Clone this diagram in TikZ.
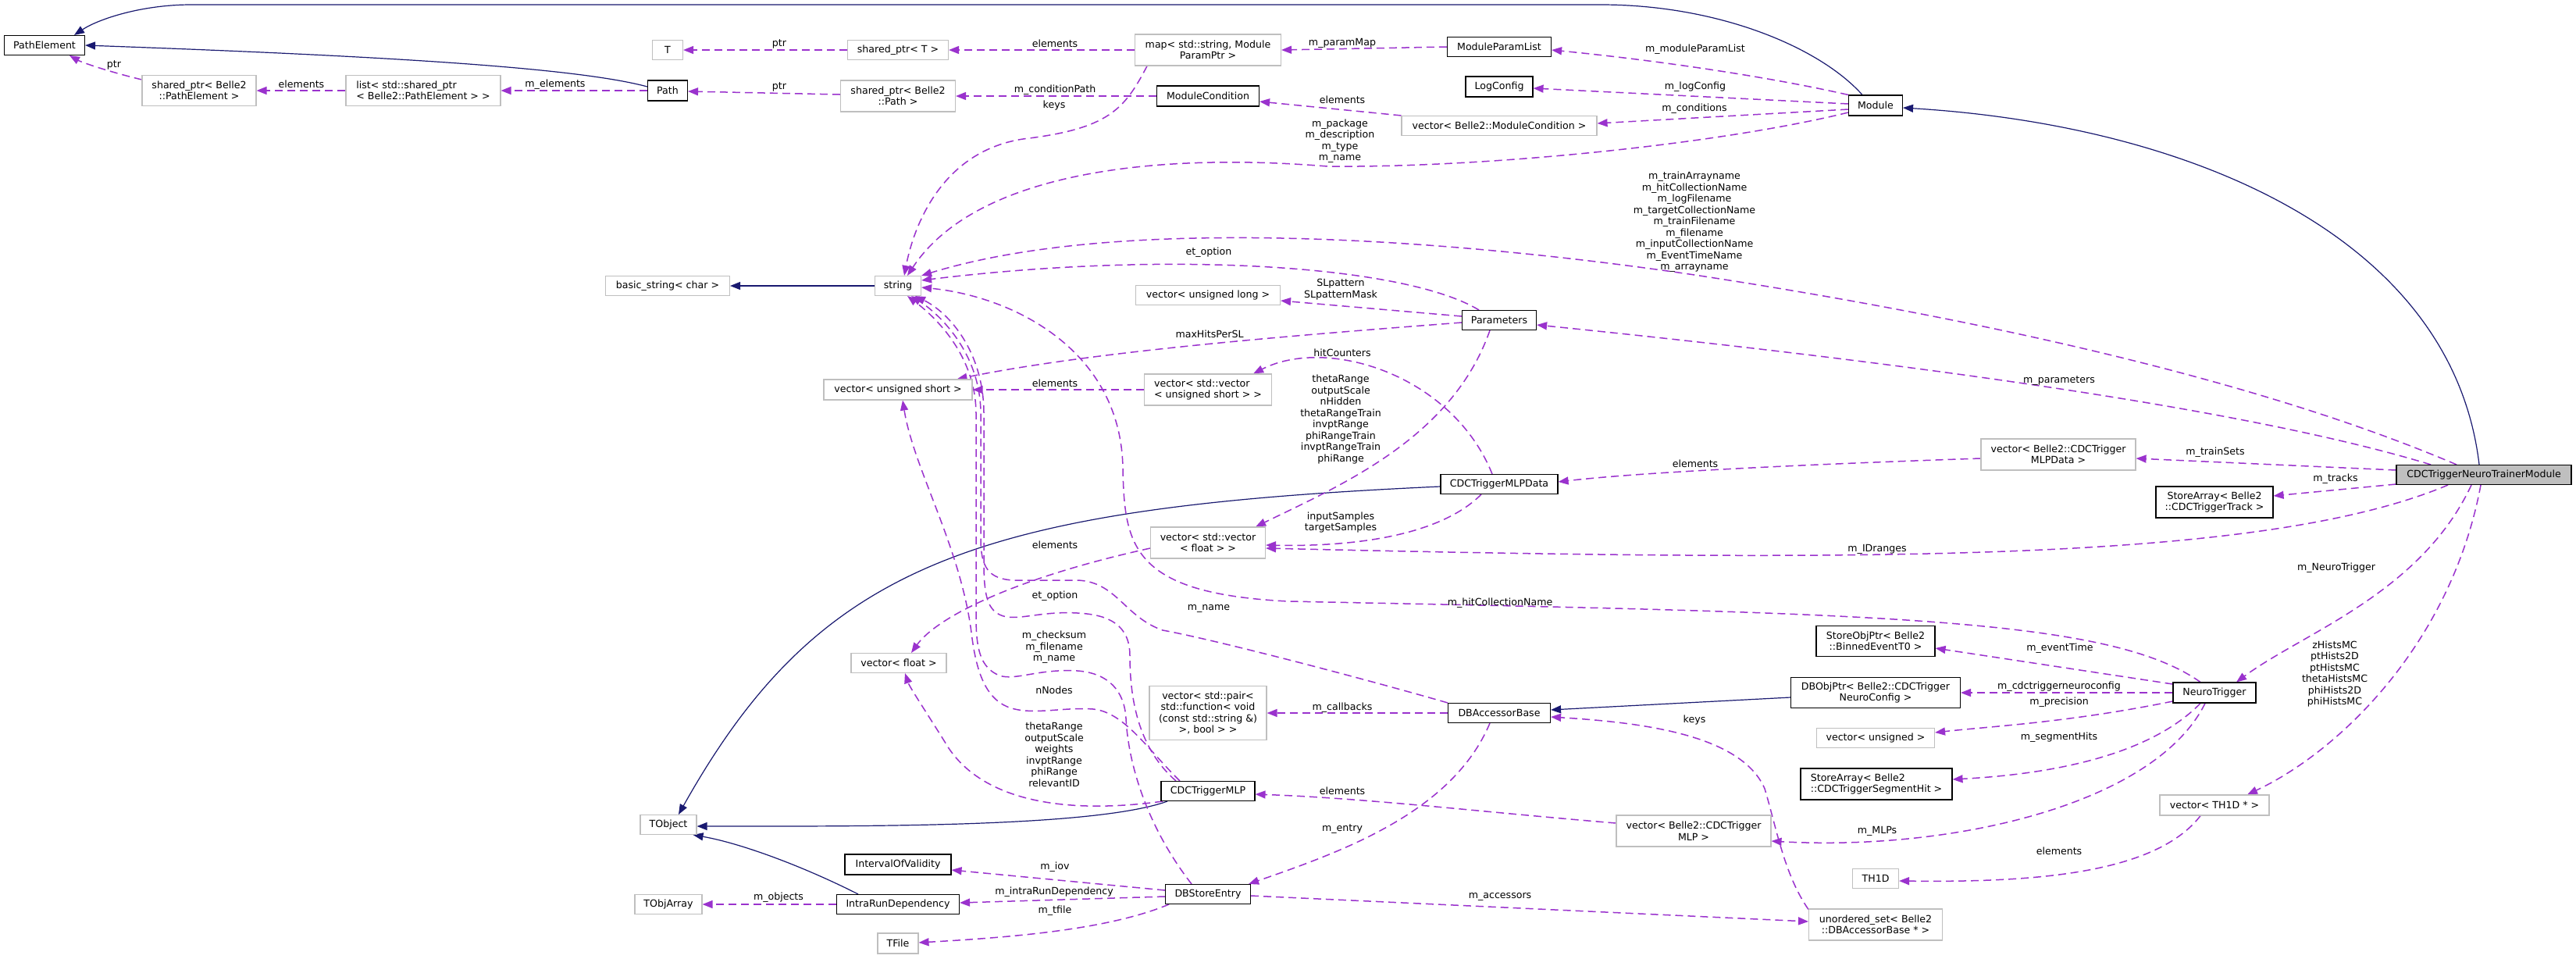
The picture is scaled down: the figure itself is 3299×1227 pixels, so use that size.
\documentclass[tikz,border=0pt]{standalone}
\usepackage{fontspec}
\setmainfont{DejaVu Sans}
\usetikzlibrary{arrows.meta,backgrounds}

\definecolor{inhcol}{HTML}{191970}
\definecolor{usecol}{HTML}{9A32CD}
\definecolor{extcol}{HTML}{BFBFBF}
\newcommand\dfont{\fontsize{12.6}{14.5}\selectfont}

\tikzset{
  cls/.style={draw=black, line width=1.1pt, inner sep=0pt, minimum height=25pt, font=\dfont, align=center, fill=white},
  ext/.style={cls, draw=extcol},
  mainc/.style={cls, fill=extcol},
  inh/.style={inhcol, line width=1.2pt, -{Triangle[length=13pt,width=10pt]}},
  use/.style={usecol, line width=1.5pt, dash pattern=on 10pt off 6pt, -{Triangle[length=13pt,width=10pt]}},
  lbl/.style={font=\dfont, inner sep=0pt, align=center}
}

\begin{document}
\begin{tikzpicture}[x=1pt, y=-1pt]

\useasboundingbox (0,0) rectangle (3299,1227);

% classes, column by column
\node[cls, minimum width=103] (PathElement) at (57,58) {PathElement};
\node[ext, minimum width=146, minimum height=39] (sptrPE) at (255,116) {shared\_ptr< Belle2\\::PathElement >};
\node[ext, minimum width=198, minimum height=39, align=left] (listPE) at (542,116) {list< std::shared\_ptr\\< Belle2::PathElement > >};
\node[cls, minimum width=51, minimum height=26] (Path) at (855,116) {Path};
\node[ext, minimum width=39] (T) at (855,64) {T};
\node[ext, minimum width=159] (basicstr) at (855,366) {basic\_string< char >};
\node[ext, minimum width=72] (TObject) at (856,1056) {TObject};
\node[ext, minimum width=86] (TObjArray) at (856,1158) {TObjArray};

\node[ext, minimum width=129] (sptrT) at (1150,64) {shared\_ptr< T >};
\node[ext, minimum width=147, minimum height=40] (sptrPath) at (1150,123) {shared\_ptr< Belle2\\::Path >};
\node[ext, minimum width=59] (string) at (1150,366) {string};
\node[ext, minimum width=190, minimum height=26] (vecushort) at (1150,499) {vector< unsigned short >};
\node[ext, minimum width=122] (vecfloat) at (1151,849) {vector< float >};
\node[cls, minimum width=136, minimum height=26] (IoV) at (1150,1107) {IntervalOfValidity};
\node[cls, minimum width=157] (IRD) at (1150,1158) {IntraRunDependency};
\node[ext, minimum width=52, minimum height=26] (TFile) at (1150,1208) {TFile};

\node[ext, minimum width=187, minimum height=40] (map) at (1547,64) {map< std::string, Module\\ParamPtr >};
\node[cls, minimum width=131, minimum height=26] (ModCond) at (1547,123) {ModuleCondition};
\node[ext, minimum width=185] (veculong) at (1547,378) {vector< unsigned long >};
\node[ext, minimum width=163, minimum height=40, align=left] (vecvecushort) at (1547,499) {vector< std::vector\\< unsigned short > >};
\node[ext, minimum width=147, minimum height=40] (vecvecfloat) at (1547,695) {vector< std::vector\\< float > >};
\node[ext, minimum width=150, minimum height=69] (vecpair) at (1547,913) {vector< std::pair<\\std::function< void\\(const std::string \&)\\>, bool > >};
\node[cls, minimum width=120] (MLP) at (1547,1013) {CDCTriggerMLP};
\node[cls, minimum width=109] (DBSE) at (1547,1145) {DBStoreEntry};

\node[cls, minimum width=133] (MPL) at (1920,60) {ModuleParamList};
\node[cls, minimum width=86, minimum height=26] (LogConfig) at (1920,111) {LogConfig};
\node[ext, minimum width=250] (vecModCond) at (1920,161) {vector< Belle2::ModuleCondition >};
\node[cls, minimum width=95] (Parameters) at (1920,410) {Parameters};
\node[cls, minimum width=150] (MLPData) at (1920,620) {CDCTriggerMLPData};
\node[cls, minimum width=131] (DBAB) at (1920,913) {DBAccessorBase};

\node[cls, minimum width=69, minimum height=26] (Module) at (2402,135) {Module};
\node[cls, minimum width=152, minimum height=39] (SOP) at (2402,821) {StoreObjPtr< Belle2\\::BinnedEventT0 >};
\node[cls, minimum width=217, minimum height=39] (DBOP) at (2402,887) {DBObjPtr< Belle2::CDCTrigger\\NeuroConfig >};
\node[ext, minimum width=151] (vecuns) at (2402,945) {vector< unsigned >};
\node[cls, minimum width=194, minimum height=40, align=left] (SASH) at (2403,1004) {StoreArray< Belle2\\::CDCTriggerSegmentHit >};
\node[ext, minimum width=198, minimum height=40] (vecMLP) at (2169,1064) {vector< Belle2::CDCTrigger\\MLP >};
\node[ext, minimum width=59] (TH1D) at (2402,1125) {TH1D};
\node[ext, minimum width=171, minimum height=40] (uset) at (2402,1184) {unordered\_set< Belle2\\::DBAccessorBase * >};

\node[ext, minimum width=198, minimum height=40] (vecMLPData) at (2636,582) {vector< Belle2::CDCTrigger\\MLPData >};
\node[cls, minimum width=150, minimum height=40] (SAT) at (2836,643) {StoreArray< Belle2\\::CDCTriggerTrack >};
\node[cls, minimum width=106, minimum height=26] (NT) at (2836,887) {NeuroTrigger};
\node[ext, minimum width=140, minimum height=26] (vecTH1D) at (2836,1031) {vector< TH1D * >};
\node[mainc, minimum width=224] (TM) at (3181,608) {CDCTriggerNeuroTrainerModule};

% edge labels
\node[lbl] (lPtrA) at (146,83) {ptr};
\node[lbl] (lElemA) at (386,108) {elements};
\node[lbl] (lElems) at (711,108) {m\_elements};
\node[lbl] (lPtrB) at (998,56) {ptr};
\node[lbl] (lElemB) at (1351,56) {elements};
\node[lbl] (lPtrC) at (998,111) {ptr};
\node[lbl] (lCondPath) at (1351,115) {m\_conditionPath};
\node[lbl] (lKeysA) at (1350,135) {keys};
\node[lbl] (lParamMap) at (1719,55) {m\_paramMap};
\node[lbl] (lModParam) at (2171,63) {m\_moduleParamList};
\node[lbl] (lLogCfg) at (2171,111) {m\_logConfig};
\node[lbl] (lConds) at (2170,139) {m\_conditions};
\node[lbl] (lElemC) at (1719,128) {elements};
\node[lbl] (lPackage) at (1716,180.5) {m\_package\\m\_description\\m\_type\\m\_name};
\node[lbl] (lTrainNames) at (2170,284.5) {m\_trainArrayname\\m\_hitCollectionName\\m\_logFilename\\m\_targetCollectionName\\m\_trainFilename\\m\_filename\\m\_inputCollectionName\\m\_EventTimeName\\m\_arrayname};
\node[lbl] (lEtOptA) at (1548,323) {et\_option};
\node[lbl] (lSLpattern) at (1717,370.5) {SLpattern\\SLpatternMask};
\node[lbl] (lMaxHits) at (1549,428) {maxHitsPerSL};
\node[lbl] (lHitCount) at (1719,452) {hitCounters};
\node[lbl] (lElemD) at (1351,491) {elements};
\node[lbl] (lRanges) at (1717,537) {thetaRange\\outputScale\\nHidden\\thetaRangeTrain\\invptRange\\phiRangeTrain\\invptRangeTrain\\phiRange};
\node[lbl] (lSamples) at (1717,669) {inputSamples\\targetSamples};
\node[lbl] (lParams) at (2637,488) {m\_parameters};
\node[lbl] (lTrainSets) at (2837,579) {m\_trainSets};
\node[lbl] (lElemE) at (2171,594) {elements};
\node[lbl] (lTracks) at (2991,613) {m\_tracks};
\node[lbl] (lElemF) at (1351,698) {elements};
\node[lbl] (lIDranges) at (2404,703) {m\_IDranges};
\node[lbl] (lNeuro) at (2992,727) {m\_NeuroTrigger};
\node[lbl] (lEtOptB) at (1351,763) {et\_option};
\node[lbl] (lHitColl) at (1921,772) {m\_hitCollectionName};
\node[lbl] (lName) at (1548,779) {m\_name};
\node[lbl] (lChecksum) at (1350,829) {m\_checksum\\m\_filename\\m\_name};
\node[lbl] (lEventTime) at (2638,830) {m\_eventTime};
\node[lbl] (lHists) at (2990,863) {zHistsMC\\ptHists2D\\ptHistsMC\\thetaHistsMC\\phiHists2D\\phiHistsMC};
\node[lbl] (lNeuroCfg) at (2637,879) {m\_cdctriggerneuroconfig};
\node[lbl] (lNNodes) at (1350,884) {nNodes};
\node[lbl] (lPrecision) at (2637,899) {m\_precision};
\node[lbl] (lCallbacks) at (1719,906) {m\_callbacks};
\node[lbl] (lKeysB) at (2170,922) {keys};
\node[lbl] (lSegHits) at (2637,944) {m\_segmentHits};
\node[lbl] (lMLPRanges) at (1350,966.5) {thetaRange\\outputScale\\weights\\invptRange\\phiRange\\relevantID};
\node[lbl] (lElemG) at (1719,1013) {elements};
\node[lbl] (lEntry) at (1719,1062) {m\_entry};
\node[lbl] (lMLPs) at (2404,1064) {m\_MLPs};
\node[lbl] (lElemH) at (2637,1090) {elements};
\node[lbl] (lIov) at (1351,1110) {m\_iov};
\node[lbl] (lIntraRun) at (1350,1142) {m\_intraRunDependency};
\node[lbl] (lAccessors) at (1921,1148) {m\_accessors};
\node[lbl] (lObjects) at (997,1149) {m\_objects};
\node[lbl] (lTFile) at (1351,1166) {m\_tfile};

\begin{scope}[on background layer]
\fill[white] (0,0) rectangle (3299,1227);

% inheritance
\draw[inh] ([shift={(-17,0)}]Module.north) .. controls (2330,60) and (2200,6) .. (2050,6) -- (245,6) .. controls (180,6) and (125,25) .. ([shift={(38,0)}]PathElement.north);
\draw[inh] ([shift={(0,-5)}]Path.west) .. controls (740,87) and (500,72) .. (PathElement.east);
\draw[inh] (string.west) -- (basicstr.east);
\draw[inh] ([shift={(0,3)}]MLPData.west) .. controls (1250,650) and (1050,720) .. ([shift={(13,0)}]TObject.north);
\draw[inh] ([shift={(-52,0)}]MLP.south) .. controls (1400,1060) and (1100,1058) .. ([shift={(0,2)}]TObject.east);
\draw[inh] ([shift={(-51,0)}]IRD.north) .. controls (1030,1110) and (950,1080) .. ([shift={(-5,0)}]TObject.south east);
\draw[inh] ([shift={(0,6)}]DBOP.west) -- ([shift={(0,-4)}]DBAB.east);
\draw[inh] ([shift={(-6,0)}]TM.north) .. controls (3140,300) and (2800,160) .. ([shift={(0,3)}]Module.east);

% usage, top part
\draw[use] ([shift={(0,6)}]sptrPE.north west) .. controls (140,92) and (105,80) .. ([shift={(32,0)}]PathElement.south);
\draw[use] (listPE.west) -- (sptrPE.east);
\draw[use] (Path.west) -- (listPE.east);
\draw[use] (sptrT.west) -- (T.east);
\draw[use] (map.west) -- (sptrT.east);
\draw[use] ([shift={(0,-2)}]sptrPath.west) -- ([shift={(0,1)}]Path.east);
\draw[use] (ModCond.west) -- (sptrPath.east);
\draw[use] ([shift={(-78,0)}]map.south) .. controls (1440,140) and (1420,165) .. (1310,178) .. controls (1200,195) and (1168,300) .. ([shift={(8,0)}]string.north);
\draw[use] (MPL.west) -- (map.east);
\draw[use] (Module.north west) .. controls (2250,95) and (2100,75) .. ([shift={(0,4)}]MPL.east);
\draw[use] ([shift={(0,-2)}]Module.west) -- ([shift={(0,2)}]LogConfig.east);
\draw[use] ([shift={(0,5)}]Module.west) -- ([shift={(0,-3)}]vecModCond.east);
\draw[use] (vecModCond.north west) -- ([shift={(0,7)}]ModCond.east);
\draw[use] ([shift={(0,9)}]Module.west) .. controls (2200,185) and (1900,215) .. (1700,213) .. controls (1480,195) and (1250,220) .. ([shift={(12,0)}]string.north);
\draw[use] ([shift={(-35,0)}]TM.north) .. controls (2900,490) and (2550,410) .. (2170,352) .. controls (1900,312) and (1450,270) .. (string.north east);
\draw[use] ([shift={(-26,0)}]Parameters.north) .. controls (1800,340) and (1500,320) .. ([shift={(0,-7)}]string.east);
\draw[use] ([shift={(0,-5)}]Parameters.west) -- ([shift={(0,7)}]veculong.east);
\draw[use] ([shift={(0,3)}]Parameters.west) .. controls (1650,430) and (1400,450) .. ([shift={(-20,0)}]vecushort.north east);
\draw[use] ([shift={(-68,0)}]TM.north) .. controls (2900,530) and (2500,470) .. ([shift={(0,6)}]Parameters.east);

% usage, middle part
\draw[use] (vecvecushort.west) -- (vecushort.east);
\draw[use] ([shift={(-9,0)}]MLPData.north) .. controls (1860,480) and (1700,430) .. ([shift={(-24,0)}]vecvecushort.north east);
\draw[use] ([shift={(-12,0)}]Parameters.south) .. controls (1860,560) and (1720,620) .. ([shift={(-13,0)}]vecvecfloat.north east);
\draw[use] ([shift={(-23,0)}]MLPData.south) .. controls (1840,690) and (1720,700) .. ([shift={(0,3)}]vecvecfloat.east);
\draw[use] ([shift={(-46,0)}]TM.south) .. controls (2900,720) and (2400,720) .. ([shift={(0,7)}]vecvecfloat.east);
\draw[use] ([shift={(0,7)}]vecvecfloat.west) .. controls (1300,740) and (1200,790) .. ([shift={(16,0)}]vecfloat.north);
\draw[use] ([shift={(0,5)}]vecMLPData.west) .. controls (2300,595) and (2100,605) .. ([shift={(0,-3)}]MLPData.east);
\draw[use] ([shift={(0,-6)}]TM.west) -- ([shift={(0,5)}]vecMLPData.east);
\draw[use] ([shift={(0,12)}]TM.west) -- ([shift={(0,-8)}]SAT.east);
\draw[use] ([shift={(-16,0)}]TM.south) .. controls (3100,760) and (2950,810) .. ([shift={(28,0)}]NT.north);
\draw[use] ([shift={(-4,0)}]TM.south) .. controls (3140,820) and (3000,960) .. ([shift={(42,0)}]vecTH1D.north);
\draw[use] ([shift={(-18,0)}]vecTH1D.south) .. controls (2760,1120) and (2600,1130) .. ([shift={(0,3)}]TH1D.east);

% usage, NeuroTrigger
\draw[use] ([shift={(0,-11)}]NT.west) -- ([shift={(0,9)}]SOP.east);
\draw[use] (NT.west) -- (DBOP.east);
\draw[use] ([shift={(0,11)}]NT.west) .. controls (2650,925) and (2550,930) .. ([shift={(0,-7)}]vecuns.east);
\draw[use] ([shift={(-18,0)}]NT.south) .. controls (2760,960) and (2650,990) .. ([shift={(0,-6)}]SASH.east);
\draw[use] ([shift={(-12,0)}]NT.south) .. controls (2760,1030) and (2500,1090) .. ([shift={(0,13)}]vecMLP.east);
\draw[use] ([shift={(-18,0)}]NT.north) .. controls (2700,790) and (2400,785) .. (1650,770) .. controls (1450,760) and (1440,700) .. (1438,600) .. controls (1436,450) and (1300,380) .. ([shift={(0,2)}]string.east);

% usage, into string from below
\draw[use] (DBAB.north west) .. controls (1750,870) and (1560,820) .. (1489,807) .. controls (1440,790) and (1430,745) .. (1380,743) -- (1299,743) .. controls (1265,742) and (1256,725) .. (1256,690) -- (1256,530) .. controls (1256,450) and (1200,400) .. ([shift={(17,0)}]string.south);
\draw[use] ([shift={(-21,0)}]DBSE.north) .. controls (1470,1060) and (1445,980) .. (1442,920) .. controls (1440,885) and (1420,862) .. (1380,859) .. controls (1330,856) and (1300,872) .. (1280,865) .. controls (1255,855) and (1250,830) .. (1250,790) -- (1250,530) .. controls (1250,450) and (1190,400) .. ([shift={(12,0)}]string.south);
\draw[use] ([shift={(-41,0)}]MLP.north) .. controls (1460,960) and (1447,900) .. (1447,840) .. controls (1447,800) and (1420,787) .. (1380,785) .. controls (1330,782) and (1300,797) .. (1280,787) .. controls (1264,779) and (1260,760) .. (1260,720) -- (1260,530) .. controls (1260,450) and (1215,400) .. ([shift={(22,0)}]string.south);
\draw[use] ([shift={(-36,0)}]MLP.north) .. controls (1470,960) and (1440,912) .. (1400,908) .. controls (1360,905) and (1320,917) .. (1290,905) .. controls (1262,893) and (1250,860) .. (1244,810) .. controls (1230,700) and (1170,600) .. ([shift={(6,0)}]vecushort.south);
\draw[use] ([shift={(-58,0)}]MLP.south) .. controls (1350,1045) and (1250,1020) .. (1210,950) .. controls (1185,910) and (1165,880) .. ([shift={(8,0)}]vecfloat.south);

% usage, bottom part
\draw[use] (DBAB.west) -- (vecpair.east);
\draw[use] ([shift={(0,-10)}]vecMLP.west) .. controls (1900,1040) and (1750,1022) .. ([shift={(0,4)}]MLP.east);
\draw[use] ([shift={(-12,0)}]DBAB.south) .. controls (1860,1040) and (1720,1090) .. ([shift={(-3,0)}]DBSE.north east);
\draw[use] ([shift={(0,1)}]uset.north west) .. controls (2285,1120) and (2275,1060) .. (2260,1010) .. controls (2230,940) and (2100,925) .. ([shift={(0,5)}]DBAB.east);
\draw[use] ([shift={(0,2)}]DBSE.east) -- ([shift={(0,-4)}]uset.west);
\draw[use] ([shift={(0,-5)}]DBSE.west) -- ([shift={(0,7)}]IoV.east);
\draw[use] ([shift={(0,3)}]DBSE.west) -- ([shift={(0,-2)}]IRD.east);
\draw[use] ([shift={(-50,0)}]DBSE.south) .. controls (1420,1190) and (1300,1200) .. ([shift={(0,-1)}]TFile.east);
\draw[use] (IRD.west) -- (TObjArray.east);
\end{scope}

\end{tikzpicture}
\end{document}
